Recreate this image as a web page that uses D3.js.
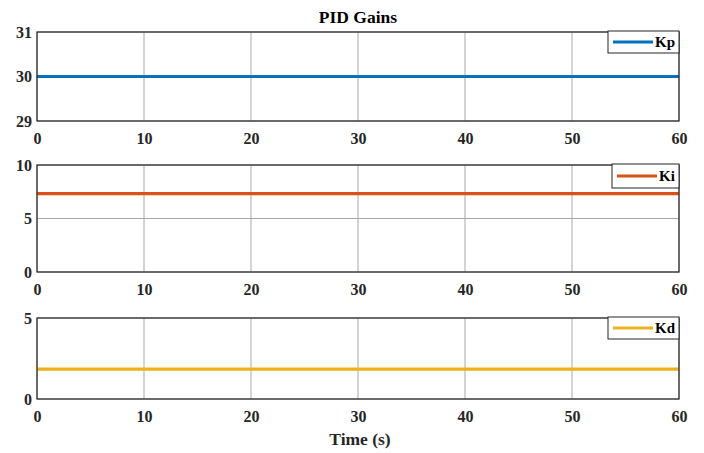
<!DOCTYPE html>
<html><head><meta charset="utf-8">
<script src="https://d3js.org/d3.v7.min.js"></script>
<style>body{margin:0;background:#fff}svg{display:block}</style>
</head><body>
<script>
const timeX = [0, 60];
const xTicks = [0, 10, 20, 30, 40, 50, 60];
const seriesNames = ["Kp", "Ki", "Kd"];
const kpValues = [30, 30];
const kiValues = [7.32, 7.32];
const kdValues = [1.85, 1.85];
const kpTicks = [29, 30, 31];
const kiTicks = [0, 5, 10];
const kdTicks = [0, 5];
const colors = ["#0072BD", "#D95319", "#EDB120"];

const W = 704, H = 453;
const svg = d3.select("body").append("svg").attr("width", W).attr("height", H);
const font = "'Liberation Serif','Times New Roman',serif";

const x = d3.scaleLinear().domain([0, 60]).range([37, 679]);

const panels = [
  {name: seriesNames[0], vals: kpValues, ticks: kpTicks, dom: [29, 31], top: 32, bottom: 121, leg: [608, 31, 679, 53], col: colors[0]},
  {name: seriesNames[1], vals: kiValues, ticks: kiTicks, dom: [0, 10], top: 165, bottom: 272, leg: [612, 164, 679, 188], col: colors[1]},
  {name: seriesNames[2], vals: kdValues, ticks: kdTicks, dom: [0, 5], top: 318, bottom: 399, leg: [608, 317, 679, 339], col: colors[2]}
];

panels.forEach(p => {
  const y = d3.scaleLinear().domain(p.dom).range([p.bottom, p.top]);
  const g = svg.append("g");
  g.selectAll(".gx").data(xTicks).join("line")
    .attr("x1", d => x(d)).attr("x2", d => x(d)).attr("y1", p.top).attr("y2", p.bottom)
    .attr("stroke", "#a8a8a8").attr("stroke-width", 1);
  g.selectAll(".gy").data(p.ticks).join("line")
    .attr("x1", 37).attr("x2", 679).attr("y1", d => y(d)).attr("y2", d => y(d))
    .attr("stroke", "#a8a8a8").attr("stroke-width", 1);
  const line = d3.line().x((d, i) => x(timeX[i])).y(d => y(d));
  g.append("path").datum(p.vals).attr("d", line)
    .attr("fill", "none").attr("stroke", p.col).attr("stroke-width", 3.2);
  const xa = d3.axisBottom(x).tickValues(xTicks).tickSize(0).tickPadding(12).tickFormat(d3.format("d"));
  const xg = g.append("g").attr("transform", `translate(0,${p.bottom})`).call(xa);
  const ya = d3.axisLeft(y).tickValues(p.ticks).tickSize(0).tickPadding(5).tickFormat(d3.format("d"));
  const yg = g.append("g").attr("transform", `translate(37,0)`).call(ya);
  [xg, yg].forEach(a => {
    a.select(".domain").remove();
    a.selectAll("text").attr("font-family", font).attr("font-weight", "bold")
      .attr("font-size", 16).attr("fill", "#262626");
  });
  g.append("rect").attr("x", 37).attr("y", p.top).attr("width", 642).attr("height", p.bottom - p.top)
    .attr("fill", "none").attr("stroke", "#262626").attr("stroke-width", 1.2);
  const [lx0, ly0, lx1, ly1] = p.leg;
  g.append("rect").attr("x", lx0).attr("y", ly0).attr("width", lx1 - lx0).attr("height", ly1 - ly0)
    .attr("fill", "#fff").attr("stroke", "#262626").attr("stroke-width", 1);
  const ly = (ly0 + ly1) / 2;
  g.append("line").attr("x1", lx0 + 5).attr("x2", lx0 + 45).attr("y1", ly).attr("y2", ly)
    .attr("stroke", p.col).attr("stroke-width", 3.2);
  g.append("text").attr("x", lx0 + 47).attr("y", ly + 5).text(p.name)
    .attr("font-family", font).attr("font-weight", "bold").attr("font-size", 15).attr("fill", "#000");
});

svg.append("text").attr("x", 358).attr("y", 23).attr("text-anchor", "middle").text("PID Gains")
  .attr("font-family", font).attr("font-weight", "bold").attr("font-size", 17.5).attr("fill", "#000");
svg.append("text").attr("x", 360).attr("y", 445).attr("text-anchor", "middle").text("Time (s)")
  .attr("font-family", font).attr("font-weight", "bold").attr("font-size", 17.5).attr("fill", "#262626");
</script>
</body></html>
